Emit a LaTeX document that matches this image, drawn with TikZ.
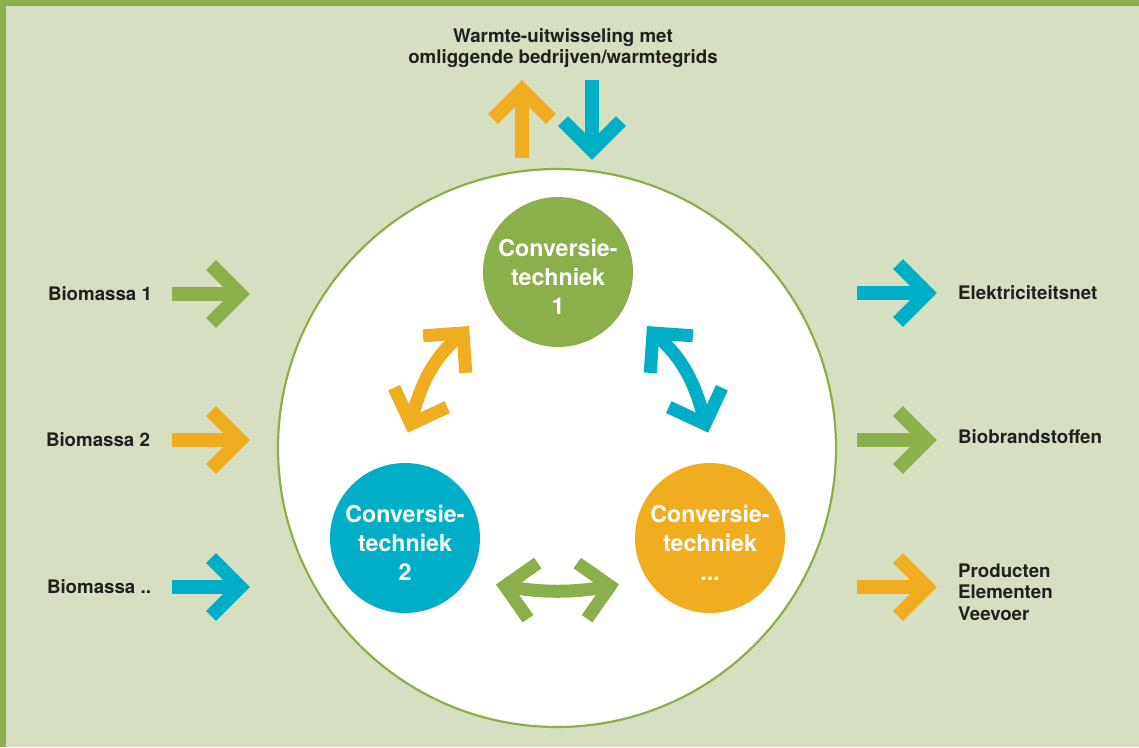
\documentclass[tikz,border=0pt]{standalone}
\usepackage{fontspec}
\setmainfont{TeX Gyre Heros}
\usetikzlibrary{calc}
\definecolor{bg}{HTML}{D6E0C1}
\definecolor{cgreen}{HTML}{8BB04B}
\definecolor{ccyan}{HTML}{00AFC7}
\definecolor{corange}{HTML}{F0AD20}
\definecolor{txt}{HTML}{231F20}
\tikzset{
  fat/.style={line width=14pt, line cap=butt, line join=miter},
  curv/.style={line width=13pt, line cap=butt, line join=miter},
  conv/.style={circle, minimum size=150pt, inner sep=0pt},
  convtext/.style={text=white, font=\fontsize{23.2}{29}\selectfont\bfseries, align=center, inner sep=0pt},
  lab/.style={text=txt, font=\fontsize{18.7}{21.5}\selectfont\bfseries, inner sep=0pt},
}
% straight arrow: colour, vertex coordinate, direction angle, shaft length
\newcommand\fatarrow[4]{%
  \draw[fat,#1] ([shift={(#3+180:#4)}]#2) -- (#2);
  \draw[fat,#1] ([shift={(#3+135:41)}]#2) -- (#2) -- ([shift={(#3-135:41)}]#2);
}
% chevron head only: colour, vertex, direction angle
\newcommand\chevhead[3]{%
  \draw[curv,#1] ([shift={(#3+135:40)}]#2) -- (#2) -- ([shift={(#3-135:40)}]#2);
}
\begin{document}
\begin{tikzpicture}[x=1pt,y=-1pt]
\useasboundingbox (0,0) rectangle (1139,747);
\fill[bg] (0,0) rectangle (1139,747);
\fill[cgreen] (0,0) rectangle (1139,6);
\fill[cgreen] (0,0) rectangle (6,747);

% big circle
\node[circle, draw=cgreen, line width=2.2pt, fill=white, minimum size=558pt, inner sep=0pt] (big) at (557,448) {};

% conversion circles
\node[conv, fill=cgreen] (c1) at (558,272) {};
\node[conv, fill=ccyan] (c2) at (405,538) {};
\node[conv, fill=corange] (c3) at (710,538) {};
\node[convtext] (t1) at ([yshift=-5pt]c1.center) {Conversie-\\techniek\\1};
\node[convtext] (t2) at ([yshift=-5pt]c2.center) {Conversie-\\techniek\\2};
\node[convtext] (t3) at ([yshift=-5pt]c3.center) {Conversie-\\techniek\\...};

% labels
\node[lab] (b1) at (100,294) {Biomassa 1};
\node[lab] (b2) at (98,440) {Biomassa 2};
\node[lab] (b3) at (99,587) {Biomassa ..};
\node[lab, anchor=west] (o1) at (958,293) {Elektriciteitsnet};
\node[lab, anchor=west] (o2) at (958,437) {Biobrandstoffen};
\node[lab, anchor=west, align=left] (o3) at (958,592) {Producten\\Elementen\\Veevoer};
\node[lab, align=center] (top) at (563,48) {Warmte-uitwisseling met\\omliggende bedrijven/warmtegrids};

% arrow vertices
\coordinate (a1) at (240,294);
\coordinate (a2) at (240,440);
\coordinate (a3) at (240,587);
\coordinate (a4) at (927,293);
\coordinate (a5) at (927,440);
\coordinate (a6) at (927,587);
\coordinate (a7) at (522,90);
\coordinate (a8) at (592,150);

\fatarrow{cgreen}{a1}{0}{68}
\fatarrow{corange}{a2}{0}{68}
\fatarrow{ccyan}{a3}{0}{68}
\fatarrow{ccyan}{a4}{0}{70}
\fatarrow{cgreen}{a5}{0}{70}
\fatarrow{corange}{a6}{0}{70}
\fatarrow{corange}{a7}{-90}{68}
\fatarrow{ccyan}{a8}{90}{70}

% curved double arrows
\coordinate (o1a) at (411,424);
\coordinate (o1b) at (463,333);
\draw[curv,corange] (o1a) .. controls (418,390) and (432,357) .. (o1b);
\chevhead{corange}{o1a}{110}
\chevhead{corange}{o1b}{-49}

\coordinate (c1a) at (705,424);
\coordinate (c1b) at (653,333);
\draw[curv,ccyan] (c1a) .. controls (698,390) and (684,357) .. (c1b);
\chevhead{ccyan}{c1a}{70}
\chevhead{ccyan}{c1b}{-131}

\coordinate (g1a) at (505,586);
\coordinate (g1b) at (610,586);
\draw[curv,cgreen] (g1a) .. controls (540,593) and (575,593) .. (g1b);
\chevhead{cgreen}{g1a}{-170}
\chevhead{cgreen}{g1b}{-10}
\end{tikzpicture}
\end{document}
